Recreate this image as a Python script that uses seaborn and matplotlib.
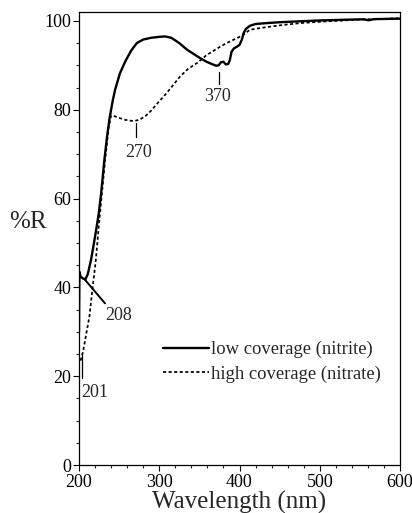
import numpy as np
import pandas as pd
import seaborn as sns
import matplotlib.pyplot as plt
from matplotlib.ticker import MultipleLocator

# Reflectance spectra
wl_low = [200, 200.5, 202, 205, 208, 211, 215, 218, 221, 224.5, 227.5, 231.5, 235, 238,
          242, 245, 251, 258, 265, 272, 280, 290, 300, 307, 315, 325, 334, 345, 352, 359,
          364, 368, 371, 374, 377, 380, 383, 386, 388, 390, 393, 397, 400, 403, 405, 408,
          413, 420, 434, 450, 475, 500, 521, 540, 555, 560, 563, 566, 570, 585, 600]
r_low = [30, 43.5, 42.4, 42.0, 41.8, 43.0, 46.2, 49.3, 52.5, 56.5, 61.0, 68.5, 74.0, 78.0,
         82.0, 84.5, 88.2, 91.0, 93.3, 95.0, 95.8, 96.2, 96.4, 96.5, 96.2, 95.0, 93.6, 92.3,
         91.5, 90.8, 90.4, 90.1, 89.9, 90.0, 90.7, 90.8, 90.2, 90.3, 91.2, 93.0, 93.8, 94.2,
         94.6, 95.8, 97.2, 98.2, 98.9, 99.3, 99.5, 99.7, 99.9, 100.1, 100.2, 100.3, 100.35,
         100.15, 100.2, 100.35, 100.4, 100.45, 100.5]

wl_high = [202, 205, 209, 213, 217, 221, 225, 229, 233, 237, 240, 245, 251, 258, 265, 270,
           276, 283, 290, 298, 309, 318, 326, 336, 347, 359, 368, 376, 384, 392, 400, 405,
           413, 423, 434, 455, 476, 500, 521, 550, 575, 600]
r_high = [23.5, 25.5, 29.5, 33.5, 40.0, 46.2, 54.5, 62.0, 69.5, 76.0, 78.7, 78.5, 78.1, 77.7,
          77.5, 77.5, 77.8, 78.6, 79.8, 81.5, 83.7, 85.7, 87.5, 89.2, 90.5, 92.3, 93.3, 94.2,
          95.0, 95.7, 96.4, 96.9, 98.0, 98.3, 98.6, 99.1, 99.5, 99.8, 100.0, 100.3, 100.45, 100.6]

labels = ["low coverage (nitrite)", "high coverage (nitrate)"]

sns.set_style("ticks")
plt.rcParams['font.family'] = ['Liberation Serif', 'DejaVu Serif']

fig = plt.figure(figsize=(4.12, 5.13), dpi=100)
ax = fig.add_axes([79 / 412, 1 - 465 / 513, 321 / 412, 453 / 513])

sns.lineplot(x=wl_low, y=r_low, ax=ax, color="black", lw=1.7, sort=False,
             label=labels[0])
sns.lineplot(x=wl_high, y=r_high, ax=ax, color="black", lw=1.25, sort=False,
             linestyle=(0, (1.8, 1.4)), label=labels[1])

ax.set_xlim(200, 600)
ax.set_ylim(0, 102)
ax.xaxis.set_major_locator(MultipleLocator(100))
ax.xaxis.set_minor_locator(MultipleLocator(20))
ax.yaxis.set_major_locator(MultipleLocator(20))
ax.yaxis.set_minor_locator(MultipleLocator(5))
ax.tick_params(which="major", direction="out", length=4, width=0.8, pad=1.5,
               labelsize=13, colors="black")
ax.tick_params(axis="x", which="major", pad=2.5)
ax.tick_params(which="minor", direction="out", length=2.5, width=0.8)
for s in ax.spines.values():
    s.set_linewidth(0.9)
    s.set_color("black")

ax.set_xlabel("Wavelength (nm)", fontsize=18, labelpad=0)
ax.set_ylabel("%R", fontsize=18, rotation=0, ha="center", va="center")
ax.yaxis.set_label_coords(-0.159, 0.536)

# peak markers
kw = dict(color="black", lw=0.9)
ax.plot([374.6, 374.6], [85.8, 88.6], **kw)
ax.text(372, 82.9, "370", fontsize=13, ha="center", va="center")
ax.plot([270.7, 270.7], [73.9, 77.1], **kw)
ax.text(274.8, 70.3, "270", fontsize=13, ha="center", va="center")
ax.plot([207, 232.4], [41.8, 36.4], color="black", lw=1.4)
ax.text(232.4, 33.6, "208", fontsize=13, ha="left", va="center")
ax.plot([203.4, 203.4], [19.7, 24.8], **kw)
ax.text(203.4, 16.3, "201", fontsize=13, ha="left", va="center")

ax.legend(loc="center left", bbox_to_anchor=(0.262, 0.2277), frameon=False,
          fontsize=13.4, handlelength=2.47, handletextpad=0.1, borderpad=0,
          borderaxespad=0, labelspacing=0.4)

fig.savefig("out.png", dpi=100)
